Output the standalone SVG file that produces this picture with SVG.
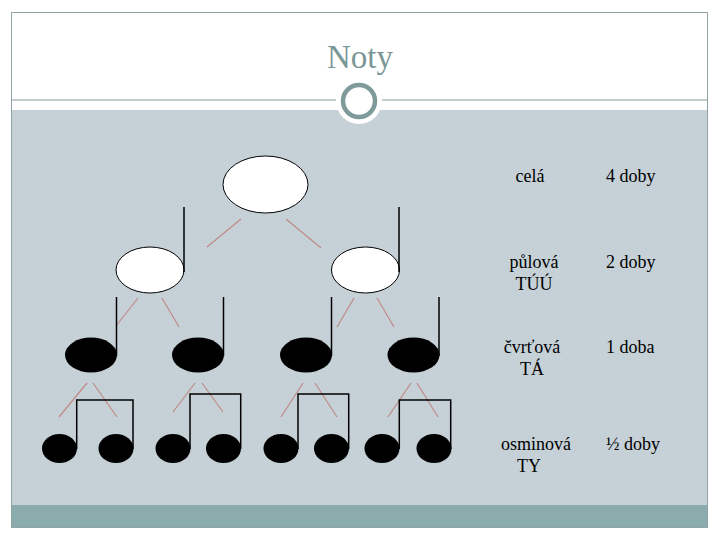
<svg xmlns="http://www.w3.org/2000/svg" width="720" height="540" viewBox="0 0 720 540">
<style>
.lbl{font-family:"Liberation Serif","Times New Roman",serif;font-size:18px;fill:#000}
.red{stroke:#c08a86;stroke-width:1.2;fill:none}
.stem{stroke:#000;stroke-width:1.5;fill:none}
.open{fill:#fff;stroke:#000;stroke-width:1}
.solid{fill:#000}
</style>
<rect x="0" y="0" width="720" height="540" fill="#fff"/>
<rect x="11" y="110" width="697" height="395" fill="#c5d1d7"/>
<rect x="11" y="505" width="697" height="22" fill="#8aacac"/>
<rect x="11.5" y="12.5" width="696" height="515" fill="none" stroke="#8fa5a5" stroke-width="1"/>
<line x1="11" y1="100" x2="708" y2="100" stroke="#8a9e9e" stroke-width="1.2"/>
<circle cx="359" cy="101" r="23" fill="#fff"/>
<circle cx="359" cy="101" r="16" fill="#fff" stroke="#7f9a9a" stroke-width="4.5"/>
<text x="360" y="68" text-anchor="middle" font-family="Liberation Serif, Times New Roman, serif" font-size="33" fill="#7b9797">Noty</text>

<g id="connectors">
<line class="red" x1="241" y1="219" x2="207" y2="247"/>
<line class="red" x1="286" y1="219" x2="321" y2="248"/>
<line class="red" x1="138" y1="298" x2="116" y2="326"/>
<line class="red" x1="162" y1="298" x2="179" y2="327"/>
<line class="red" x1="354" y1="298" x2="337" y2="327"/>
<line class="red" x1="377" y1="298" x2="394" y2="327"/>
<line class="red" x1="87" y1="383" x2="59" y2="417"/>
<line class="red" x1="93" y1="383" x2="117" y2="417"/>
<line class="red" x1="195" y1="383" x2="173" y2="412"/>
<line class="red" x1="202" y1="383" x2="223" y2="412"/>
<line class="red" x1="303" y1="383" x2="281" y2="417"/>
<line class="red" x1="315" y1="383" x2="337" y2="417"/>
<line class="red" x1="411" y1="383" x2="388" y2="417"/>
<line class="red" x1="417" y1="383" x2="438" y2="417"/>
</g>

<g id="whole"><ellipse class="open" cx="265.5" cy="184.5" rx="42.5" ry="28.5"/></g>
<g id="half1"><ellipse class="open" cx="150" cy="270" rx="34" ry="23"/><line class="stem" x1="184" y1="207" x2="184" y2="272"/></g>
<g id="half2"><ellipse class="open" cx="365.5" cy="270" rx="34" ry="23"/><line class="stem" x1="399" y1="207" x2="399" y2="272"/></g>

<g id="q1"><ellipse class="solid" cx="91" cy="355" rx="26" ry="17.5"/><line class="stem" x1="116.5" y1="297" x2="116.5" y2="356"/></g>
<g id="q2"><ellipse class="solid" cx="198" cy="355" rx="26" ry="17.5"/><line class="stem" x1="223.5" y1="297" x2="223.5" y2="356"/></g>
<g id="q3"><ellipse class="solid" cx="306" cy="355" rx="26" ry="17.5"/><line class="stem" x1="331.5" y1="297" x2="331.5" y2="356"/></g>
<g id="q4"><ellipse class="solid" cx="413.5" cy="355" rx="26" ry="17.5"/><line class="stem" x1="439" y1="297" x2="439" y2="356"/></g>

<g id="e1"><ellipse class="solid" cx="59.5" cy="448.5" rx="17.5" ry="14.5"/><ellipse class="solid" cx="116" cy="448.5" rx="17.5" ry="14.5"/><path class="stem" d="M76.7 449V400H133V449"/></g>
<g id="e2"><ellipse class="solid" cx="173" cy="448.5" rx="17.5" ry="14.5"/><ellipse class="solid" cx="223.5" cy="448.5" rx="17.5" ry="14.5"/><path class="stem" d="M190 449V394H240.7V449"/></g>
<g id="e3"><ellipse class="solid" cx="281" cy="448.5" rx="17.5" ry="14.5"/><ellipse class="solid" cx="331.5" cy="448.5" rx="17.5" ry="14.5"/><path class="stem" d="M298 449V394H348.7V449"/></g>
<g id="e4"><ellipse class="solid" cx="382" cy="448.5" rx="17.5" ry="14.5"/><ellipse class="solid" cx="434" cy="448.5" rx="17.5" ry="14.5"/><path class="stem" d="M399.3 449V400H450.7V449"/></g>

<g id="labels">
<text class="lbl" x="530" y="182" text-anchor="middle">celá</text>
<text class="lbl" x="606" y="182">4 doby</text>
<text class="lbl" x="534" y="268" text-anchor="middle">půlová</text>
<text class="lbl" x="534" y="290" text-anchor="middle">TÚÚ</text>
<text class="lbl" x="606" y="268">2 doby</text>
<text class="lbl" x="532" y="353" text-anchor="middle">čvrťová</text>
<text class="lbl" x="532" y="375" text-anchor="middle">TÁ</text>
<text class="lbl" x="606" y="353">1 doba</text>
<text class="lbl" x="536" y="450" text-anchor="middle">osminová</text>
<text class="lbl" x="529" y="472" text-anchor="middle">TY</text>
<text class="lbl" x="606" y="450">½ doby</text>
</g>
</svg>
